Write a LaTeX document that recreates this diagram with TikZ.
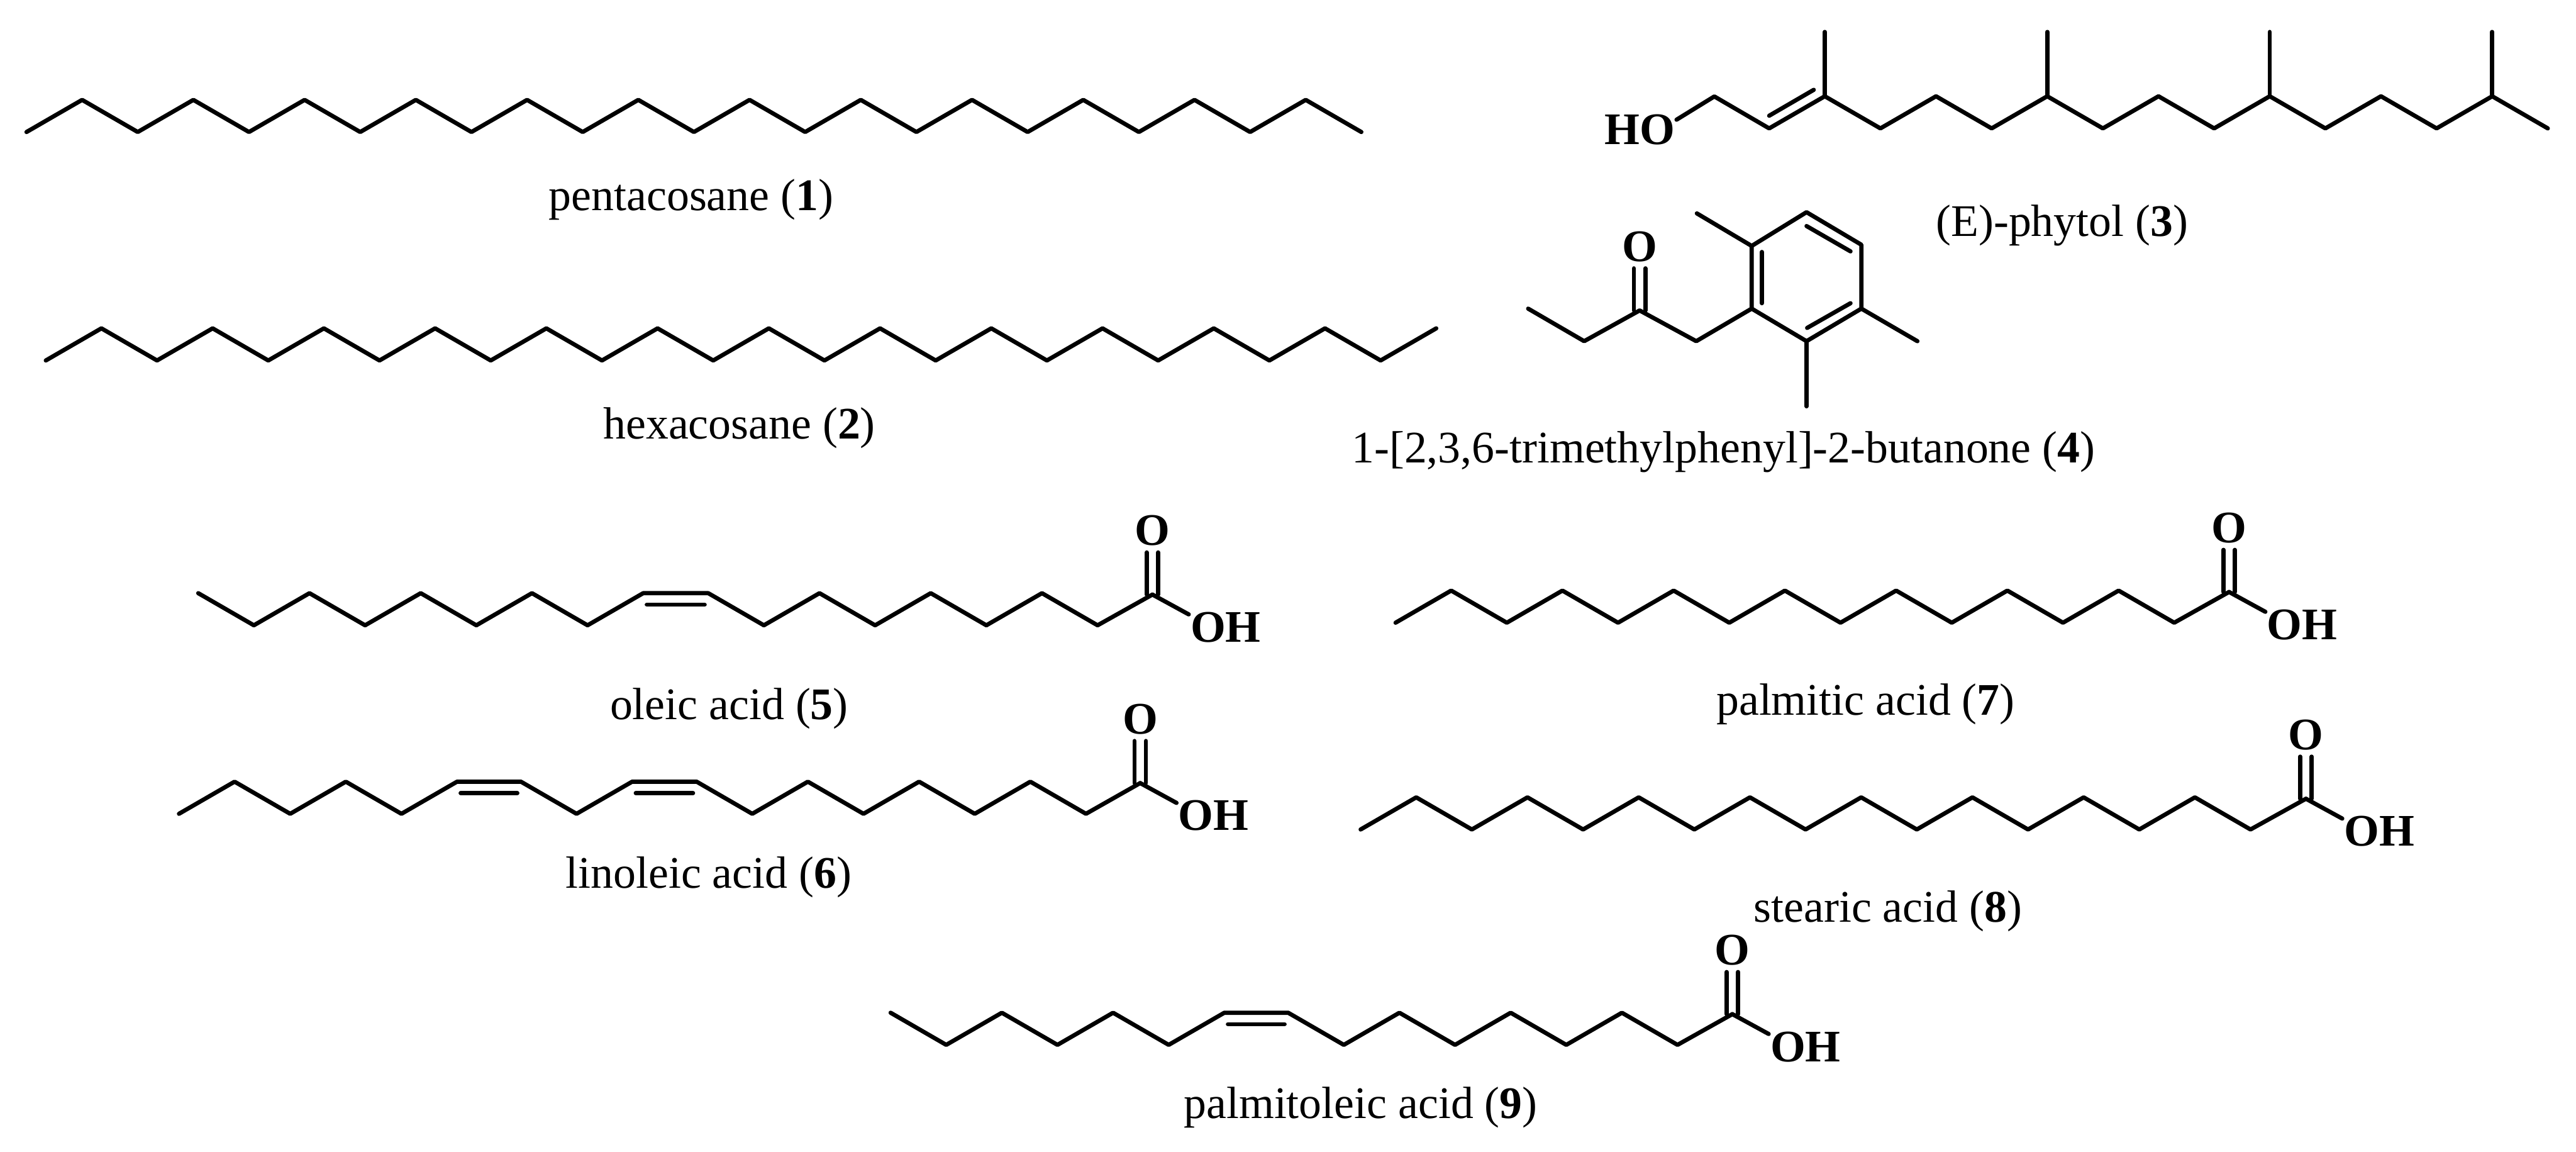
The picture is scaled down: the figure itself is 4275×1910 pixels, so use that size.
\documentclass[tikz,border=0pt]{standalone}
\usepackage{fontspec}
\setmainfont{Liberation Serif}

\newcommand{\zig}[2]{\foreach \i in {1,...,#1} { -- ++(92.3,{-53.3*#2*(2*mod(\i,2)-1)}) }}
\newcommand{\carbonyl}[1]{
  \node[atom] (o#1) at ([shift={(0,-106)}]c#1) {O};
  \coordinate (a#1) at ([xshift=-0.095cm]c#1);
  \coordinate (b#1) at ([xshift=0.095cm]c#1);
  \draw[bond, shorten >=0.08cm] (a#1) -- (a#1 |- o#1.south);
  \draw[bond, shorten >=0.08cm] (b#1) -- (b#1 |- o#1.south);
}
\newcommand{\carboxyl}[1]{
  \carbonyl{#1}
  \node[atom] (oh#1) at ([shift={(121.5,54)}]c#1) {OH};
  \draw[bond] (c#1) -- (oh#1.161);
}

\begin{document}
\begin{tikzpicture}[x=0.01cm, y=-0.01cm,
    bond/.style={line width=0.07cm, line join=round, line cap=round},
    atom/.style={inner sep=0pt, outer sep=0.03cm, font=\fontsize{21.3}{26}\selectfont\bfseries},
    molname/.style={inner sep=0pt, anchor=base, font=\fontsize{21.3}{26}\selectfont}]
  \useasboundingbox (0,0) rectangle (4275,1910);

  \draw[bond] (44,219) \zig{24}{1};
  \node[molname] (name1) at (1147,349) {pentacosane (\textbf{1})};

  \draw[bond] (76,598) \zig{25}{1};
  \node[molname] (name2) at (1227,728) {hexacosane (\textbf{2})};

  \node[atom] (ho3) at (2721,215) {HO};
  \draw[bond] (ho3.15) -- (2845,160) -- (2936,213) \zig{14}{1};
  \draw[bond] (2936,192) -- (3010,149);
  \foreach \i in {1,5,9,13} {
    \draw[bond] ({2936+92.3*\i},160) -- ++(0,-107);
  }
  \node[molname] (name3) at (3422,392) {(E)-phytol (\textbf{3})};

  \coordinate (r1) at (2907,408);
  \coordinate (r2) at (2998,352);
  \coordinate (r3) at (3089,406);
  \coordinate (r4) at (3089,512);
  \coordinate (r5) at (2998,566);
  \coordinate (r6) at (2907,512);
  \coordinate (c4) at (2721,515);
  \draw[bond] (r1) -- (r2) -- (r3) -- (r4) -- (r5) -- (r6) -- cycle;
  \draw[bond] (2924,418) -- (2924,503);
  \draw[bond] (2998,375) -- (3071,417);
  \draw[bond] (3071,503) -- (2999,544);
  \draw[bond] (r1) -- (2816,354);
  \draw[bond] (r4) -- (3182,566);
  \draw[bond] (r5) -- (2998,674);
  \draw[bond] (r6) -- (2815,566) -- (c4) -- (2629,566) -- (2536,512);
  \carbonyl{4}
  \node[molname] (name4) at (2860,768) {1-[2,3,6-trimethylphenyl]-2-butanone (\textbf{4})};

  \draw[bond] (329,984) \zig{8}{-1} coordinate (d5l) -- ++(108,0) coordinate (d5r) \zig{7}{-1} -- ++(91,-51) coordinate (c5);
  \draw[bond] ([shift={(6,19)}]d5l) -- ([shift={(-6,19)}]d5r);
  \carboxyl{5}
  \node[molname] (name5) at (1210,1193) {oleic acid (\textbf{5})};

  \draw[bond] (297,1350) \zig{5}{1} coordinate (d6l) -- ++(106,0) coordinate (d6r) \zig{2}{-1} coordinate (e6l) -- ++(107,0) coordinate (e6r) \zig{7}{-1} -- ++(90,-51) coordinate (c6);
  \draw[bond] ([shift={(6,19)}]d6l) -- ([shift={(-6,19)}]d6r);
  \draw[bond] ([shift={(6,19)}]e6l) -- ([shift={(-6,19)}]e6r);
  \carboxyl{6}
  \node[molname] (name6) at (1176,1473) {linoleic acid (\textbf{6})};

  \draw[bond] (2316,1033) \zig{14}{1} -- ++(91,-51) coordinate (c7);
  \carboxyl{7}
  \node[molname] (name7) at (3096,1186) {palmitic acid (\textbf{7})};

  \draw[bond] (2258,1376) \zig{16}{1} -- ++(92,-51) coordinate (c8);
  \carboxyl{8}
  \node[molname] (name8) at (3133,1530) {stearic acid (\textbf{8})};

  \draw[bond] (1478,1680) \zig{6}{-1} coordinate (d9l) -- ++(106,0) coordinate (d9r) \zig{7}{-1} -- ++(91,-51) coordinate (c9);
  \draw[bond] ([shift={(6,19)}]d9l) -- ([shift={(-6,19)}]d9r);
  \carboxyl{9}
  \node[molname] (name9) at (2258,1855) {palmitoleic acid (\textbf{9})};
\end{tikzpicture}
\end{document}
